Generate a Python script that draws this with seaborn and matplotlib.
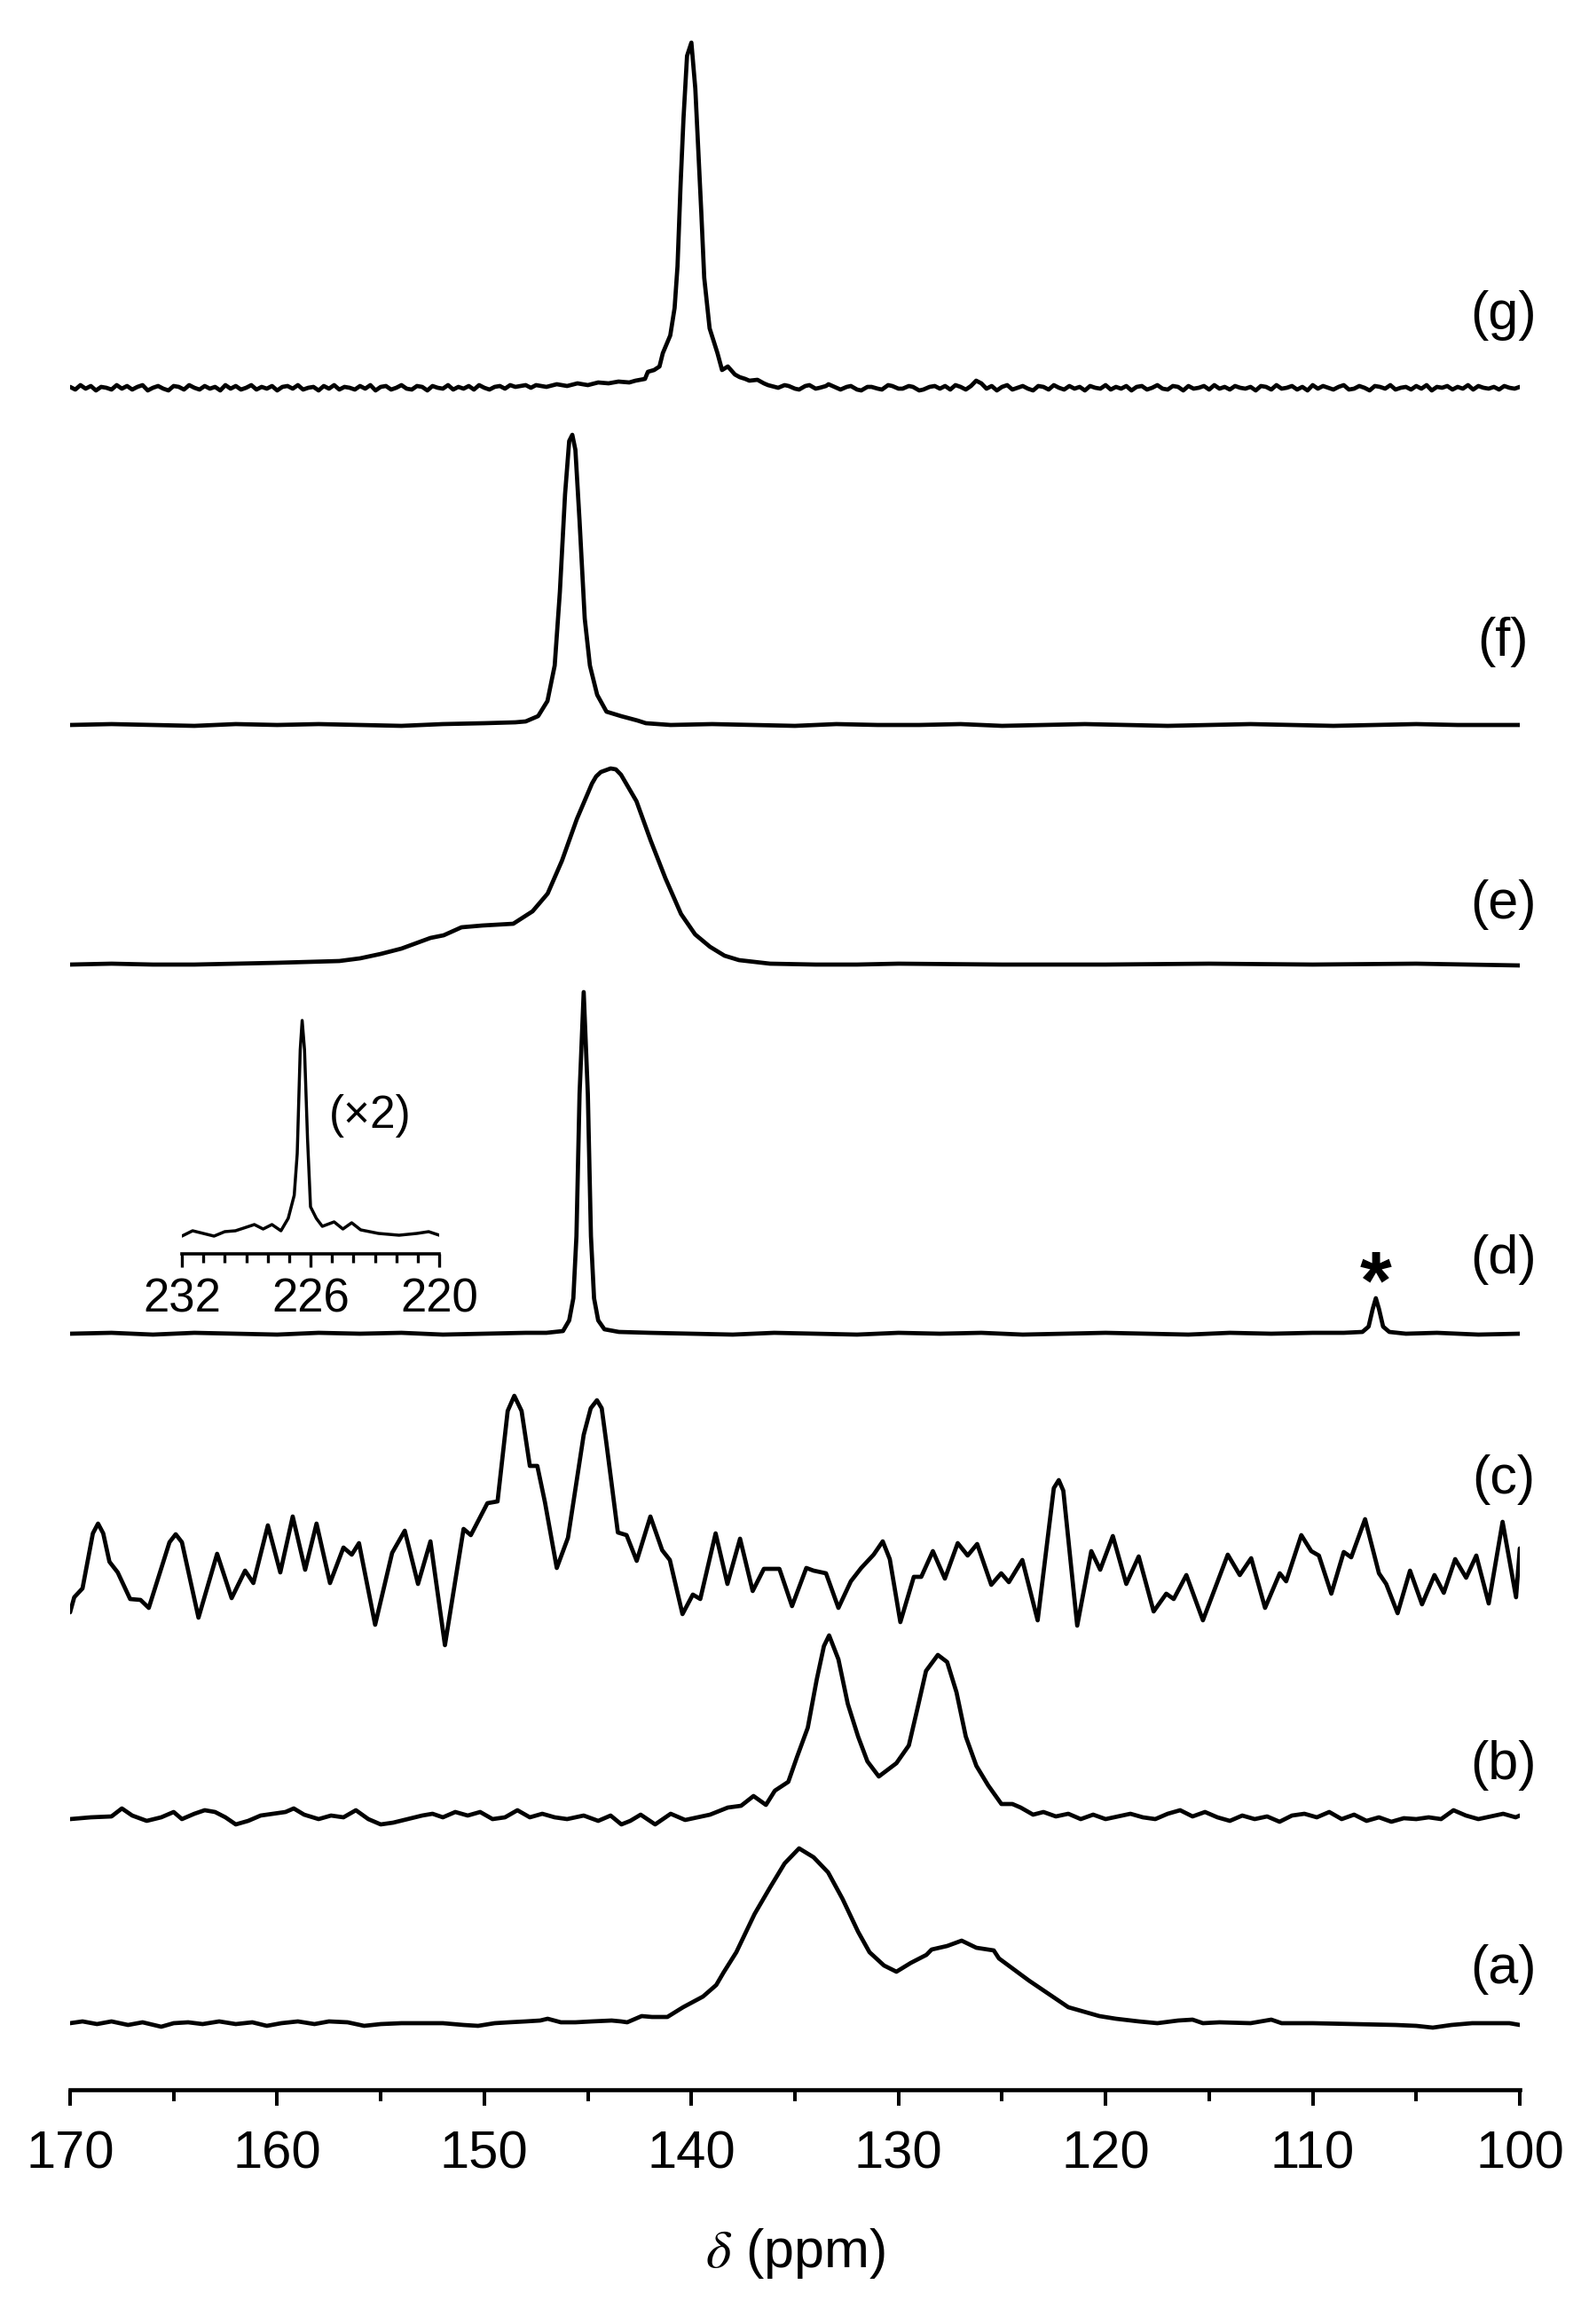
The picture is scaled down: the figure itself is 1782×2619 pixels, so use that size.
import numpy as np
import pandas as pd
import matplotlib
matplotlib.use("Agg")
import matplotlib.pyplot as plt
import seaborn as sns

# ---------------- data ----------------
spectrum_labels = ["(a)", "(b)", "(c)", "(d)", "(e)", "(f)", "(g)"]
main_ticks = [170, 160, 150, 140, 130, 120, 110, 100]
inset_ticks = [232, 226, 220]

# (g) baseline noise, 0.25 ppm steps (170 -> 148 and 128 -> 100)
g_noise_left = [1, -2, 3, -1, 2, -3, 1, 0, -2, 3, -1, 2, -2, 1, 3, -3, 0, 2, -1, -3, 2, 1, -2,
                3, 0, -2, 2, -1, 1, -3, 3, -1, 2, -2, 0, 3, -2, 1, -1, 2, -3, 1, 2, -1, 3, -2,
                0, 1, -3, 2, -1, 3, -2, 1, 0, -2, 2, -1, 3, -3, 1, 2, -2, 0, 3, -1, -2, 2, 1,
                -3, 2, 0, -1, 3, -2, 1, -1, 2, -2, 3, 0, -2, 1, 2, -1, 3, 1, 2, 3]
g_peak_ppm = [147.75, 147.5, 147.0, 146.5, 146.0, 145.5, 145.0, 144.5, 144.0, 143.52, 143.0,
              142.7, 142.24, 142.1, 141.8, 141.54, 141.38, 141.02, 140.81, 140.67, 140.52,
              140.38, 140.21, 140.0, 139.81, 139.67, 139.52, 139.38, 139.12, 138.74, 138.52,
              138.24, 137.9, 137.67, 137.4, 137.2, 136.81, 136.5, 136.3, 135.81, 135.5, 135.3,
              135.0, 134.8, 134.5, 134.3, 134.0, 133.8, 133.5, 133.38, 133.0, 132.8, 132.5,
              132.3, 132.0, 131.8, 131.5, 131.3, 131.0, 130.8, 130.5, 130.3, 130.0, 129.8,
              129.5, 129.3, 129.0, 128.8, 128.5, 128.25]
g_peak_int = [0, 3, 1, 4, 2, 5, 3, 6, 5, 7, 6, 8, 10, 18, 20, 24, 39, 59, 90, 137, 230, 304,
              374, 389, 337, 270, 197, 124, 67, 39, 20, 24, 15, 12, 10, 8, 9, 5, 3, 0, 3, 2, -1,
              -2, 2, 3, -1, 0, 2, 4, 0, -2, 1, 2, -2, -3, 1, 1, -1, -2, 3, 2, -1, -1, 2, 1, -3,
              -2, 1, 2]
g_noise_right = [-1, 2, -2, 3, 1, -2, 2, 8, 5, -1, 2, -3, 1, 3, -2, 0, 2, -1, -3, 2, 1, -2, 3,
                 0, -2, 2, -1, 1, -3, 2, 0, -1, 3, -2, 1, -1, 2, -3, 1, 2, -2, 0, 3, -1, -2, 2,
                 1, -3, 2, -1, 0, 2, -2, 3, -1, 1, -2, 2, 0, -1, 1, -3, 2, 1, -2, 3, -1, 0, 2,
                 -2, 1, -3, 3, -1, 2, 0, -2, 1, 3, -2, -1, 2, 0, -3, 2, 1, -1, 3, -2, 0, 1, -2,
                 2, -1, 3, -3, 1, 0, 2, -2, 1, -1, 3, -2, 2, 0, -1, 1, -2, 2, 0, -1, 1]

# (f)
f_ppm = [170, 168, 166, 164, 162, 160, 158, 156, 154, 152, 150, 148.5, 148, 147.4, 146.95, 146.6,
         146.35, 146.1, 145.9, 145.75, 145.6, 145.4, 145.15, 144.9, 144.55, 144.1, 143.4, 142.6,
         142.2, 141, 139, 137, 135, 133, 131, 129, 127, 125, 123, 121, 119, 117, 115, 113, 111,
         109, 107, 105, 103, 101, 100]
f_int = [0, 1, 0, -1, 1, 0, 1, 0, -1, 1, 2, 3, 4, 10, 27, 67, 150, 260, 320, 327, 310, 230, 120,
         67, 34, 15, 10, 5, 2, 0, 1, 0, -1, 1, 0, 0, 1, -1, 0, 1, 0, -1, 0, 1, 0, -1, 0, 1, 0, 0, 0]

# (e)
e_ppm = [170, 168, 166, 164, 162, 160, 158.5, 157, 156, 155, 154, 153.3, 152.6, 151.96, 151.1,
         150.1, 148.6, 147.67, 146.94, 146.25, 145.53, 144.8, 144.6, 144.37, 143.9, 143.65,
         143.4, 142.65, 141.97, 141.25, 140.5, 139.82, 139.1, 138.4, 137.7, 136.2, 134, 132,
         130, 125, 120, 115, 110, 105, 100]
e_int = [0, 1, 0, 0, 1, 2, 3, 4, 7, 12, 18, 24, 30, 33, 42, 44, 46, 60, 80, 117, 164, 204, 212,
         217, 221, 220, 214, 184, 140, 97, 57, 34, 20, 10, 5, 1, 0, 0, 1, 0, 0, 1, 0, 1, -1]

# (d)
d_ppm = [170, 168, 166, 164, 162, 160, 158, 156, 154, 152, 150, 148, 147, 146.2, 145.9, 145.7,
         145.55, 145.4, 145.2, 145.0, 144.85, 144.7, 144.5, 144.2, 143.5, 142, 140, 138, 136,
         134, 132, 130, 128, 126, 124, 122, 120, 118, 116, 114, 112, 110, 108.5, 107.6, 107.3,
         107.1, 106.95, 106.8, 106.6, 106.3, 105.5, 104, 102, 100]
d_int = [0, 1, -1, 1, 0, -1, 1, 0, 1, -1, 0, 1, 1, 3, 15, 40, 110, 270, 385, 270, 110, 40, 15, 5,
         2, 1, 0, -1, 1, 0, -1, 1, 0, 1, -1, 0, 1, 0, -1, 1, 0, 1, 1, 2, 8, 28, 40, 28, 8, 2, 0,
         1, -1, 0]

# (c)
c_ppm = [170.0, 169.8, 169.4, 168.9, 168.65, 168.4, 168.1, 167.7, 167.1, 166.6, 166.2, 165.2,
         164.9, 164.6, 163.8, 162.9, 162.2, 161.55, 161.15, 160.45, 159.85, 159.25, 158.65,
         158.1, 157.45, 156.8, 156.4, 156.05, 155.27, 154.45, 153.84, 153.2, 152.6, 151.9,
         151.0, 150.65, 149.85, 149.36, 148.87, 148.55, 148.2, 147.8, 147.44, 147.07, 146.5,
         145.96, 145.2, 144.86, 144.56, 144.33, 144.1, 143.55, 143.13, 142.64, 141.98, 141.41,
         141.04, 140.43, 139.93, 139.57, 138.83, 138.26, 137.65, 137.04, 136.5, 135.75, 135.14,
         134.45, 134.1, 133.5, 132.9, 132.3, 131.8, 131.2, 130.76, 130.42, 129.91, 129.26,
         128.9, 128.34, 127.76, 127.14, 126.66, 126.2, 125.52, 125.04, 124.67, 124.02, 123.28,
         122.5, 122.26, 122.04, 121.37, 120.69, 120.26, 119.65, 119.0, 118.4, 117.68, 117.07,
         116.71, 116.1, 115.3, 114.1, 113.52, 112.97, 112.3, 111.59, 111.28, 110.55, 110.07,
         109.7, 109.1, 108.5, 108.14, 107.47, 106.8, 106.45, 105.9, 105.3, 104.72, 104.12,
         103.67, 103.12, 102.59, 102.1, 101.5, 100.83, 100.18, 100.0]
c_y = [1817, 1800, 1790, 1728, 1717, 1728, 1760, 1772, 1802, 1803, 1812, 1738, 1729, 1738, 1823,
       1751, 1801, 1770, 1784, 1719, 1772, 1709, 1769, 1717, 1784, 1744, 1752, 1739, 1831, 1750,
       1725, 1785, 1737, 1854, 1723, 1730, 1694, 1692, 1590, 1573, 1590, 1652, 1652, 1693, 1767,
       1733, 1617, 1587, 1578, 1587, 1627, 1727, 1730, 1759, 1709, 1747, 1758, 1819, 1797, 1802,
       1728, 1785, 1734, 1793, 1768, 1768, 1810, 1767, 1770, 1773, 1812, 1782, 1767, 1752, 1737,
       1757, 1828, 1777, 1777, 1748, 1779, 1739, 1753, 1740, 1786, 1773, 1783, 1758, 1826, 1677,
       1668, 1680, 1832, 1748, 1769, 1731, 1785, 1754, 1816, 1796, 1802, 1775, 1826, 1752, 1775,
       1756, 1812, 1773, 1782, 1730, 1748, 1753, 1796, 1749, 1755, 1712, 1773, 1785, 1818, 1770,
       1808, 1775, 1795, 1757, 1778, 1753, 1807, 1715, 1800, 1745]
c_int = [1780 - v for v in c_y]

# (b)
b_ppm = [170, 169, 168, 167.5, 167, 166.3, 165.6, 165, 164.6, 164, 163.5, 163, 162.5, 162, 161.4,
         160.8, 160.2, 159.6, 159.2, 158.7, 158, 157.4, 156.8, 156.2, 155.6, 155, 154.4, 153.7,
         153, 152.5, 152, 151.4, 150.8, 150.2, 149.6, 149, 148.4, 147.8, 147.2, 146.6, 146,
         145.2, 144.5, 143.9, 143.38, 142.95, 142.45, 141.75, 141.0, 140.3, 139.1, 138.24,
         137.6, 137.0, 136.4, 135.97, 135.32, 134.9, 134.38, 133.95, 133.6, 133.35, 132.9,
         132.45, 131.95, 131.5, 130.95, 130.1, 129.5, 129.1, 128.67, 128.1, 127.65, 127.2,
         126.75, 126.24, 125.67, 125.03, 124.5, 124.1, 123.5, 123, 122.4, 121.8, 121.2, 120.6,
         120, 119.4, 118.8, 118.2, 117.6, 117, 116.4, 115.8, 115.2, 114.6, 114, 113.4, 112.8,
         112.2, 111.6, 111, 110.4, 109.8, 109.2, 108.6, 108, 107.4, 106.8, 106.2, 105.6, 105,
         104.4, 103.8, 103.2, 102.6, 102, 101.4, 100.8, 100.2, 100]
b_int = [0, 2, 3, 12, 4, -2, 2, 8, 0, 6, 10, 8, 2, -6, -2, 4, 6, 8, 12, 5, 0, 4, 2, 10, 0, -6, -4,
         0, 4, 6, 2, 8, 4, 8, 0, 2, 10, 2, 6, 2, 0, 4, -2, 4, -6, -2, 5, -6, 6, -1, 5, 13, 15, 26,
         16, 32, 42, 70, 103, 157, 195, 207, 180, 130, 93, 65, 48, 63, 83, 123, 167, 185, 177,
         143, 93, 60, 38, 17, 17, 13, 5, 8, 3, 6, 0, 5, 0, 3, 6, 2, 0, 6, 10, 3, 8, 2, -2, 4, 0,
         3, -3, 4, 6, 2, 8, 0, 5, -2, 2, -3, 1, 0, 2, 0, 10, 4, 0, 3, 6, 2, 4]

# (a)
a_ppm = [170, 169.4, 168.7, 168, 167.2, 166.5, 165.6, 165, 164.3, 163.6, 162.8, 162, 161.2,
         160.5, 159.8, 159, 158.2, 157.5, 156.6, 155.8, 155, 154, 153, 152, 151, 150.3, 149.5,
         148.8, 148, 147.3, 146.94, 146.3, 145.6, 144.8, 143.85, 143.4, 143.1, 142.4, 141.9,
         141.16, 140.4, 139.44, 138.8, 138.45, 137.83, 136.95, 136.2, 135.5, 134.8, 134.1,
         133.4, 132.7, 131.95, 131.4, 130.7, 130.1, 129.4, 128.65, 128.4, 127.65, 126.95,
         126.24, 125.4, 125.15, 123.7, 121.8, 120.3, 119.5, 118.4, 117.5, 116.5, 115.8, 115.3,
         114.5, 113, 112, 111.5, 110, 108, 106, 105, 104.2, 103.3, 102.3, 101.4, 100.5, 100]
a_int = [0, 2, -1, 2, -2, 1, -4, 0, 1, -1, 2, -1, 1, -3, 0, 2, -1, 2, 1, -3, -1, 0, 0, 0, -2,
         -3, 0, 1, 2, 3, 5, 1, 1, 2, 3, 2, 1, 8, 7, 7, 18, 30, 43, 57, 80, 123, 153, 180, 197,
         187, 170, 140, 103, 80, 65, 58, 68, 77, 83, 87, 93, 85, 82, 73, 48, 18, 8, 5, 2, 0, 3,
         4, 0, 1, 0, 4, 0, 0, -1, -2, -3, -5, -2, 0, 0, 0, -2]

# inset of (d): 232-220 ppm, shown x2
ins_ppm = [232.0, 231.5, 231.0, 230.5, 230.0, 229.5, 228.62, 228.21, 227.8, 227.38, 227.04,
           226.76, 226.62, 226.48, 226.39, 226.28, 226.14, 226.0, 225.73, 225.45, 224.9,
           224.49, 224.08, 223.66, 222.83, 221.87, 221.04, 220.49, 219.87]
ins_y = [1393, 1387, 1390, 1393, 1388, 1387, 1380, 1385, 1380, 1387, 1373, 1347, 1300, 1183,
         1150, 1183, 1283, 1360, 1373, 1382, 1377, 1385, 1378, 1386, 1390, 1392, 1390, 1388, 1393]
ins_int = [1392 - v for v in ins_y]

# ---------------- assemble ----------------
g_ppm = list(np.round(np.arange(170.0, 147.9, -0.25), 2)) + g_peak_ppm + \
        list(np.round(np.arange(128.0, 99.9, -0.25), 2))
g_int = g_noise_left + g_peak_int + g_noise_right

spectra = {"(a)": (a_ppm, a_int), "(b)": (b_ppm, b_int), "(c)": (c_ppm, c_int),
           "(d)": (d_ppm, d_int), "(e)": (e_ppm, e_int), "(f)": (f_ppm, f_int),
           "(g)": (g_ppm, g_int)}

# vertical stacking offsets (layout)
offsets = {"(a)": 75, "(b)": 305, "(c)": 575, "(d)": 852, "(e)": 1268, "(f)": 1538, "(g)": 1918}
label_y = {"(a)": 135, "(b)": 366, "(c)": 688, "(d)": 935, "(e)": 1336, "(f)": 1632, "(g)": 2000}

frames = []
for name, (pp, ii) in spectra.items():
    n = min(len(pp), len(ii))
    frames.append(pd.DataFrame({"ppm": pp[:n], "y": np.array(ii[:n], float) + offsets[name],
                                "spec": name}))
df = pd.concat(frames, ignore_index=True)
df_in = pd.DataFrame({"ppm": ins_ppm, "y": np.array(ins_int, float) + 21, "spec": "inset"})

# ---------------- figure ----------------
sns.set_theme(style="ticks")
plt.rcParams["font.family"] = ["Liberation Sans", "DejaVu Sans"]
plt.rcParams["mathtext.fontset"] = "stix"

W, H = 1783, 2619
fig = plt.figure(figsize=(W / 100, H / 100), dpi=100)
fig.patch.set_facecolor("white")

ax = fig.add_axes([79 / W, (H - 2355) / H, (1713 - 79) / W, (2355 - 20) / H])
sns.lineplot(data=df, x="ppm", y="y", units="spec", estimator=None, sort=False,
             color="black", lw=3.4, ax=ax, legend=False)
for ln in ax.lines:
    ln.set_solid_joinstyle("round")
    ln.set_solid_capstyle("round")
ax.set_xlim(170, 100)
ax.set_ylim(0, 2335)
ax.set_facecolor("none")
for s in ["left", "top", "right"]:
    ax.spines[s].set_visible(False)
ax.spines["bottom"].set_linewidth(3.3)
ax.spines["bottom"].set_color("black")
ax.set_yticks([])
ax.set_ylabel("")
ax.set_xticks(main_ticks)
ax.set_xticklabels([str(t) for t in main_ticks])
ax.set_xticks(np.arange(165, 100, -10), minor=True)
ax.tick_params(axis="x", which="major", direction="out", length=13, width=2.9,
               labelsize=43, pad=20, colors="black")
ax.tick_params(axis="x", which="minor", direction="out", length=9.5, width=2.9, colors="black")
ax.set_xlabel(r"$\delta$ (ppm)", fontsize=44, labelpad=38, color="black")

for name in spectrum_labels:
    ax.text(100.8, label_y[name], name, ha="center", va="center", fontsize=44, color="black")

# asterisk over the small peak of (d)
ax.text(106.95, 905, "*", ha="center", va="center", fontsize=66, fontweight="bold",
        color="black")

# ---------------- inset ----------------
axi = fig.add_axes([205 / W, (H - 1413) / H, 290 / W, 283 / H])
sns.lineplot(data=df_in, x="ppm", y="y", estimator=None, sort=False, color="black", lw=2.5,
             ax=axi, legend=False)
for ln in axi.lines:
    ln.set_solid_joinstyle("round")
axi.set_xlim(232, 220)
axi.set_ylim(0, 283)
axi.set_facecolor("none")
for s in ["left", "top", "right"]:
    axi.spines[s].set_visible(False)
axi.spines["bottom"].set_linewidth(2.6)
axi.spines["bottom"].set_color("black")
axi.set_yticks([])
axi.set_ylabel("")
axi.set_xlabel("")
axi.set_xticks(inset_ticks)
axi.set_xticklabels([str(t) for t in inset_ticks])
axi.set_xticks(np.arange(231, 220, -1), minor=True)
axi.tick_params(axis="x", which="major", direction="out", length=11, width=2.4,
                labelsize=38, pad=8, colors="black")
axi.tick_params(axis="x", which="minor", direction="out", length=7, width=2.4, colors="black")
axi.text(223.2, 1413 - 1257, "(\u00d72)", ha="center", va="center", fontsize=37, color="black")

fig.savefig("out.png", dpi=100, facecolor="white")
